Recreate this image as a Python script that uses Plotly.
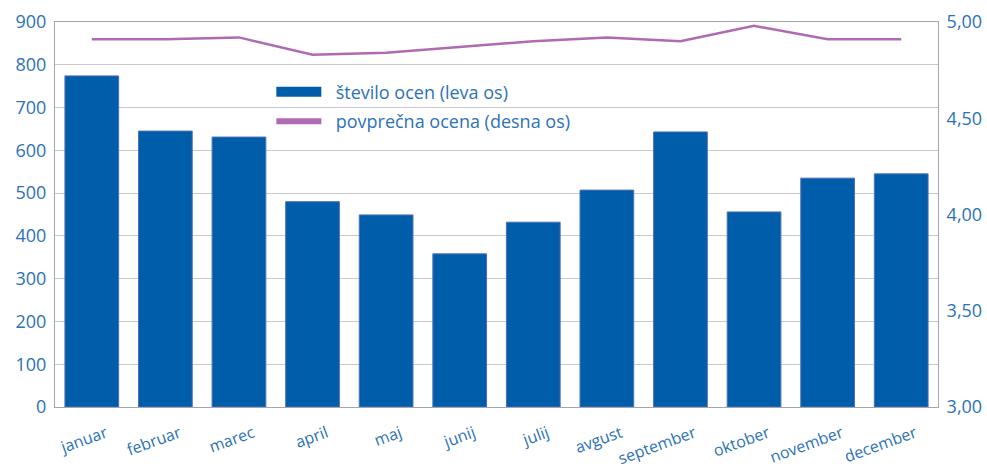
import plotly.graph_objects as go

months = ["januar", "februar", "marec", "april", "maj", "junij", "julij",
          "avgust", "september", "oktober", "november", "december"]
stevilo_ocen = [774, 645, 631, 480, 449, 358, 432, 507, 643, 456, 535, 545]
povprecna_ocena = [4.91, 4.91, 4.92, 4.83, 4.84, 4.87, 4.90, 4.92, 4.90, 4.98, 4.91, 4.91]
left_ticks = [0, 100, 200, 300, 400, 500, 600, 700, 800, 900]
right_ticks = [3.0, 3.5, 4.0, 4.5, 5.0]
right_labels = ["3,00", "3,50", "4,00", "4,50", "5,00"]
legend_names = ["število ocen (leva os)", "povprečna ocena (desna os)"]

BAR = "#005DAA"
LINE = "#B06AB3"
TXT = "#2C72B8"
FONT = "Open Sans"
PAD = "\u00a0\u00a0"

fig = go.Figure()
fig.add_trace(go.Bar(x=months, y=stevilo_ocen, marker=dict(color=BAR, line=dict(color="#4F6FB8", width=1)),
                     showlegend=False, legendgroup="a", hoverinfo="skip"))
fig.add_trace(go.Scatter(x=months, y=povprecna_ocena, yaxis="y2", mode="lines",
                         line=dict(color=LINE, width=2.5), showlegend=False, legendgroup="b",
                         hoverinfo="skip"))
# legend proxies
fig.add_trace(go.Scatter(x=[None], y=[None], mode="lines", name=PAD + legend_names[0],
                         line=dict(color=BAR, width=11), legendgroup="a"))
fig.add_trace(go.Scatter(x=[None], y=[None], mode="lines", name=PAD + legend_names[1],
                         line=dict(color=LINE, width=6), yaxis="y2", legendgroup="b"))

fig.update_layout(
    width=987, height=474,
    margin=dict(l=55, r=49, t=22, b=67),
    paper_bgcolor="white", plot_bgcolor="white",
    bargap=0.27,
    font=dict(family=FONT, color=TXT, size=17),
    xaxis=dict(tickangle=-20, tickfont=dict(size=16, color=TXT), showline=True, linecolor="#A6A6A6",
               mirror=True, ticks="", showgrid=False, automargin=False,
               ticklabelstandoff=10, ticklabelshift=14),
    yaxis=dict(range=[0, 900], tickvals=left_ticks, showgrid=True, gridcolor="#C9C9C9",
               tickfont=dict(size=18, color=TXT), showline=True, linecolor="#A6A6A6", zeroline=False,
               ticks="", automargin=False, ticklabelstandoff=4),
    yaxis2=dict(range=[3, 5], tickvals=right_ticks, ticktext=right_labels, overlaying="y", side="right",
                showgrid=False, tickfont=dict(size=18, color=TXT), showline=True, linecolor="#A6A6A6",
                zeroline=False, automargin=False, ticklabelstandoff=4),
    legend=dict(x=0.245, y=0.866, xanchor="left", yanchor="top", bgcolor="rgba(0,0,0,0)",
                font=dict(size=18, color=TXT), itemwidth=45, tracegroupgap=3),
)
fig.write_html("out.html", config={"displayModeBar": False},
               post_script="document.body.style.margin='0';document.body.style.overflow='hidden';")
